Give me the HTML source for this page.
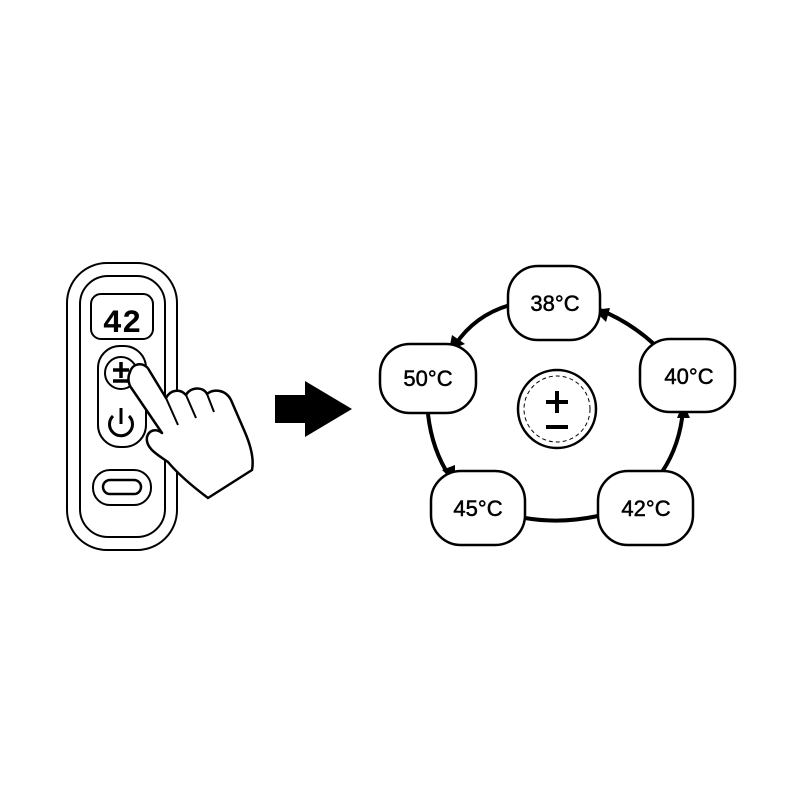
<!DOCTYPE html>
<html><head><style>body{margin:0;background:#fff}svg{display:block}</style></head><body>
<svg width="800" height="800" viewBox="0 0 800 800" xmlns="http://www.w3.org/2000/svg" font-family="Liberation Sans, sans-serif">
<rect width="800" height="800" fill="#fff"/>
<g fill="none" stroke="#000" stroke-width="2">
<rect x="67" y="263" width="110" height="287" rx="40"/>
<rect x="80" y="276" width="85" height="261" rx="28"/>
<rect x="91" y="294" width="62" height="45" rx="10"/>
<rect x="98" y="346" width="48" height="101" rx="22"/>
<circle cx="121" cy="373" r="16"/>
<rect x="93" y="470" width="58" height="35" rx="17"/>
<rect x="103" y="480" width="38" height="14" rx="7" stroke-width="2.5"/>
<path d="M113 416 a11.5 11.5 0 1 0 16 0" stroke-width="3"/>
<line x1="121" y1="408" x2="121" y2="424" stroke-width="3"/>
</g>
<text x="122" y="332" font-size="32" font-weight="bold" text-anchor="middle" font-family="Liberation Mono, monospace">42</text>
<g stroke="#000" stroke-width="3.5"><line x1="113" y1="370" x2="129" y2="370"/><line x1="121" y1="362" x2="121" y2="378"/><line x1="113" y1="381" x2="129" y2="381"/></g>
<path d="M130 372 C133 362 145 362 149 370 L166 398 C170 390 180 388 186 395 C190 387 203 386 207 394 C214 388 226 390 231 400 L244 430 C252 448 254 460 252 470 L208 498 C192 486 178 474 168 462 C158 455 145 448 147 437 C149 430 156 428 162 433 L130 386 C128 381 128 376 130 372 Z" fill="#fff" stroke="#000" stroke-width="2.5" stroke-linejoin="round"/>
<path d="M166 398 L178 425 M186 395 L196 418 M207 394 L214 412" fill="none" stroke="#000" stroke-width="2"/>
<polygon points="275,395 305,395 305,381 352,409 305,437 305,423 275,423" fill="#000"/>
<g fill="none" stroke="#000" stroke-width="4">
<path d="M510 305 Q475 315 455 345"/>
<path d="M655 345 Q630 322 600 310"/>
<path d="M428 414 Q432 450 450 477"/>
<path d="M662 472 Q680 445 683 410"/>
<path d="M525 518 Q560 524 598 516"/>
</g>
<g fill="#000">
<polygon points="449,350 452,335 465,344"/>
<polygon points="594,310 610,308 606,322"/>
<polygon points="455,482 442,470 455,465"/>
<polygon points="683,403 677,418 690,418"/>
</g>
<g fill="#fff" stroke="#000" stroke-width="2.5">
<rect x="508" y="266" width="92" height="74" rx="30"/>
<rect x="380" y="344" width="96" height="69" rx="30"/>
<rect x="640" y="339" width="95" height="73" rx="30"/>
<rect x="431" y="471" width="94" height="74" rx="30"/>
<rect x="598" y="471" width="95" height="74" rx="30"/>
<circle cx="557" cy="409" r="39"/>
</g>
<circle cx="557" cy="409" r="33" fill="none" stroke="#000" stroke-width="1" stroke-dasharray="4 3"/>
<g stroke="#000" stroke-width="4"><line x1="546" y1="402" x2="568" y2="402"/><line x1="557" y1="391" x2="557" y2="413"/><line x1="546" y1="427" x2="568" y2="427"/></g>
<g font-size="22" text-anchor="middle" fill="#000" stroke="#000" stroke-width="0.5">
<text x="555" y="311">38°C</text>
<text x="428" y="386">50°C</text>
<text x="689" y="384">40°C</text>
<text x="478" y="516">45°C</text>
<text x="646" y="516">42°C</text>
</g>
</svg>
</body></html>
